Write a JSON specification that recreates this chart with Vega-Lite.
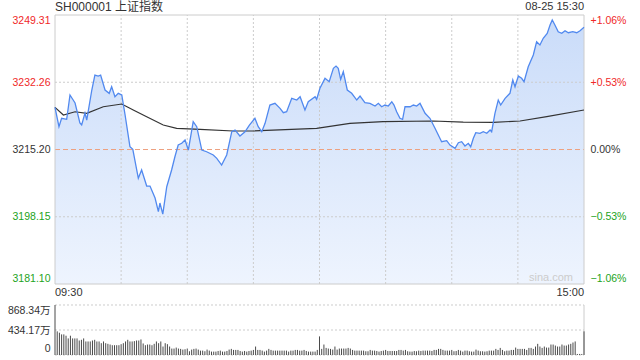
{
"$schema": "https://vega.github.io/schema/vega-lite/v6.json",
"width": 529, "height": 340,
"autosize": "none",
"padding": {"left": 55, "top": 15, "right": 56, "bottom": 5},
"background": "white",
"config": {"view": {"stroke": null}, "font": "Liberation Sans, Noto Sans CJK SC"},
"datasets": {
"price": [{"t":0,"p":3225.90},{"t":1.8,"p":3220.98},{"t":3.0,"p":3223.11},{"t":5.3,"p":3222.86},{"t":6.8,"p":3229.02},{"t":9.1,"p":3226.99},{"t":11.3,"p":3221.92},{"t":12.1,"p":3221.41},{"t":13.6,"p":3224.46},{"t":14.4,"p":3222.68},{"t":16.7,"p":3230.29},{"t":18.1,"p":3234.09},{"t":19.6,"p":3233.84},{"t":20.7,"p":3234.09},{"t":22.7,"p":3230.29},{"t":24.6,"p":3229.45},{"t":25.7,"p":3231.12},{"t":27.2,"p":3228.59},{"t":28.7,"p":3229.45},{"t":30.3,"p":3229.02},{"t":31.8,"p":3223.95},{"t":34.0,"p":3215.91},{"t":35.3,"p":3215.25},{"t":37.8,"p":3207.90},{"t":39.3,"p":3210.00},{"t":41.6,"p":3205.94},{"t":43.1,"p":3205.94},{"t":45.4,"p":3202.90},{"t":46.9,"p":3199.43},{"t":47.6,"p":3201.63},{"t":48.9,"p":3198.84},{"t":50.7,"p":3205.77},{"t":52.9,"p":3210.00},{"t":54.4,"p":3213.37},{"t":55.9,"p":3216.34},{"t":57.5,"p":3216.77},{"t":59.0,"p":3217.61},{"t":60.5,"p":3215.07},{"t":62.7,"p":3222.25},{"t":64.3,"p":3220.98},{"t":66.6,"p":3215.07},{"t":68.8,"p":3214.64},{"t":71.8,"p":3213.81},{"t":73.4,"p":3212.97},{"t":75.6,"p":3211.27},{"t":77.9,"p":3213.81},{"t":80.2,"p":3219.71},{"t":81.7,"p":3220.14},{"t":83.9,"p":3218.62},{"t":86.2,"p":3219.71},{"t":88.2,"p":3221.41},{"t":90.7,"p":3223.11},{"t":92.2,"p":3220.98},{"t":93.8,"p":3219.71},{"t":95.3,"p":3221.84},{"t":97.5,"p":3226.48},{"t":99.8,"p":3226.91},{"t":102.1,"p":3225.65},{"t":103.6,"p":3224.53},{"t":105.1,"p":3224.78},{"t":107.4,"p":3228.18},{"t":109.7,"p":3227.75},{"t":111.2,"p":3228.59},{"t":113.4,"p":3225.22},{"t":114.9,"p":3227.32},{"t":118.0,"p":3228.59},{"t":118.7,"p":3227.93},{"t":120.2,"p":3230.72},{"t":122.5,"p":3233.25},{"t":124.4,"p":3232.39},{"t":126.3,"p":3235.79},{"t":127.5,"p":3236.37},{"t":128.5,"p":3235.79},{"t":129.6,"p":3233.00},{"t":130.8,"p":3234.93},{"t":132.6,"p":3230.29},{"t":134.6,"p":3229.45},{"t":136.9,"p":3227.75},{"t":138.4,"p":3228.77},{"t":140.6,"p":3227.07},{"t":142.9,"p":3226.91},{"t":145.2,"p":3226.23},{"t":146.7,"p":3226.91},{"t":148.2,"p":3226.05},{"t":149.7,"p":3226.48},{"t":151.2,"p":3226.23},{"t":152.8,"p":3227.32},{"t":153.8,"p":3226.48},{"t":155.0,"p":3224.78},{"t":156.5,"p":3223.11},{"t":157.7,"p":3222.86},{"t":158.8,"p":3226.05},{"t":161.1,"p":3226.05},{"t":162.6,"p":3226.48},{"t":164.1,"p":3226.23},{"t":165.6,"p":3226.91},{"t":167.9,"p":3224.38},{"t":170.1,"p":3223.11},{"t":172.4,"p":3220.58},{"t":175.4,"p":3217.18},{"t":177.7,"p":3217.43},{"t":179.2,"p":3216.34},{"t":181.5,"p":3215.50},{"t":183.0,"p":3216.92},{"t":184.5,"p":3217.18},{"t":186.0,"p":3216.09},{"t":187.5,"p":3216.77},{"t":188.6,"p":3215.91},{"t":189.8,"p":3218.04},{"t":190.9,"p":3219.46},{"t":192.8,"p":3219.31},{"t":194.3,"p":3219.71},{"t":195.9,"p":3219.31},{"t":197.4,"p":3220.14},{"t":198.1,"p":3219.71},{"t":199.6,"p":3224.38},{"t":201.1,"p":3227.75},{"t":202.2,"p":3226.48},{"t":204.2,"p":3228.18},{"t":206.4,"p":3229.45},{"t":207.7,"p":3232.82},{"t":208.7,"p":3231.12},{"t":210.2,"p":3233.84},{"t":211.7,"p":3233.25},{"t":212.8,"p":3232.39},{"t":214.7,"p":3236.20},{"t":217.0,"p":3239.16},{"t":218.5,"p":3242.53},{"t":220.0,"p":3241.70},{"t":221.5,"p":3243.40},{"t":223.3,"p":3244.66},{"t":224.6,"p":3246.77},{"t":225.6,"p":3248.04},{"t":226.8,"p":3246.77},{"t":228.3,"p":3245.07},{"t":229.9,"p":3244.66},{"t":231.4,"p":3245.32},{"t":232.9,"p":3244.82},{"t":234.9,"p":3245.07},{"t":236.7,"p":3244.82},{"t":238.2,"p":3245.32},{"t":240,"p":3246.19}],
"avg": [{"t":0,"a":3225.90},{"t":3.8,"a":3223.95},{"t":9.1,"a":3224.78},{"t":14.4,"a":3224.38},{"t":21.9,"a":3226.05},{"t":30.3,"a":3226.74},{"t":35.5,"a":3225.22},{"t":41.6,"a":3223.52},{"t":49.1,"a":3221.41},{"t":55.2,"a":3220.58},{"t":65.8,"a":3220.32},{"t":80.9,"a":3219.89},{"t":88.5,"a":3219.89},{"t":118.7,"a":3220.58},{"t":133.8,"a":3221.84},{"t":148.8,"a":3222.25},{"t":171.5,"a":3222.43},{"t":185.2,"a":3222.17},{"t":198.8,"a":3222.10},{"t":211.0,"a":3222.43},{"t":223.1,"a":3223.52},{"t":240,"a":3225.22}],
"vol": [{"t":0,"v":868},{"t":1,"v":411},{"t":2,"v":387},{"t":3,"v":358},{"t":4,"v":358},{"t":5,"v":335},{"t":6,"v":288},{"t":7,"v":335},{"t":8,"v":288},{"t":9,"v":288},{"t":10,"v":288},{"t":11,"v":252},{"t":12,"v":264},{"t":13,"v":288},{"t":14,"v":235},{"t":15,"v":235},{"t":16,"v":235},{"t":17,"v":252},{"t":18,"v":264},{"t":19,"v":235},{"t":20,"v":235},{"t":21,"v":205},{"t":22,"v":235},{"t":23,"v":205},{"t":24,"v":194},{"t":25,"v":182},{"t":26,"v":170},{"t":27,"v":170},{"t":28,"v":170},{"t":29,"v":170},{"t":30,"v":188},{"t":31,"v":205},{"t":32,"v":235},{"t":33,"v":264},{"t":34,"v":235},{"t":35,"v":235},{"t":36,"v":241},{"t":37,"v":252},{"t":38,"v":252},{"t":39,"v":270},{"t":40,"v":200},{"t":41,"v":170},{"t":42,"v":182},{"t":43,"v":182},{"t":44,"v":170},{"t":45,"v":194},{"t":46,"v":235},{"t":47,"v":205},{"t":48,"v":235},{"t":49,"v":147},{"t":50,"v":205},{"t":51,"v":188},{"t":52,"v":147},{"t":53,"v":112},{"t":54,"v":112},{"t":55,"v":129},{"t":56,"v":112},{"t":57,"v":106},{"t":58,"v":94},{"t":59,"v":100},{"t":60,"v":112},{"t":61,"v":65},{"t":62,"v":94},{"t":63,"v":106},{"t":64,"v":112},{"t":65,"v":94},{"t":66,"v":76},{"t":67,"v":76},{"t":68,"v":65},{"t":69,"v":94},{"t":70,"v":76},{"t":71,"v":59},{"t":72,"v":59},{"t":73,"v":59},{"t":74,"v":70},{"t":75,"v":76},{"t":76,"v":59},{"t":77,"v":59},{"t":78,"v":70},{"t":79,"v":94},{"t":80,"v":106},{"t":81,"v":88},{"t":82,"v":88},{"t":83,"v":88},{"t":84,"v":70},{"t":85,"v":59},{"t":86,"v":70},{"t":87,"v":59},{"t":88,"v":70},{"t":89,"v":76},{"t":90,"v":88},{"t":91,"v":147},{"t":92,"v":88},{"t":93,"v":88},{"t":94,"v":76},{"t":95,"v":59},{"t":96,"v":76},{"t":97,"v":106},{"t":98,"v":88},{"t":99,"v":76},{"t":100,"v":76},{"t":101,"v":76},{"t":102,"v":76},{"t":103,"v":76},{"t":104,"v":76},{"t":105,"v":76},{"t":106,"v":59},{"t":107,"v":76},{"t":108,"v":76},{"t":109,"v":88},{"t":110,"v":88},{"t":111,"v":76},{"t":112,"v":76},{"t":113,"v":88},{"t":114,"v":70},{"t":115,"v":59},{"t":116,"v":59},{"t":117,"v":59},{"t":118,"v":59},{"t":119,"v":88},{"t":120,"v":323},{"t":121,"v":106},{"t":122,"v":182},{"t":123,"v":123},{"t":124,"v":112},{"t":125,"v":106},{"t":126,"v":94},{"t":127,"v":147},{"t":128,"v":94},{"t":129,"v":112},{"t":130,"v":112},{"t":131,"v":112},{"t":132,"v":112},{"t":133,"v":123},{"t":134,"v":112},{"t":135,"v":88},{"t":136,"v":76},{"t":137,"v":76},{"t":138,"v":76},{"t":139,"v":76},{"t":140,"v":76},{"t":141,"v":65},{"t":142,"v":65},{"t":143,"v":88},{"t":144,"v":76},{"t":145,"v":76},{"t":146,"v":70},{"t":147,"v":59},{"t":148,"v":70},{"t":149,"v":76},{"t":150,"v":88},{"t":151,"v":70},{"t":152,"v":70},{"t":153,"v":70},{"t":154,"v":70},{"t":155,"v":70},{"t":156,"v":88},{"t":157,"v":88},{"t":158,"v":76},{"t":159,"v":88},{"t":160,"v":65},{"t":161,"v":59},{"t":162,"v":59},{"t":163,"v":70},{"t":164,"v":65},{"t":165,"v":76},{"t":166,"v":70},{"t":167,"v":76},{"t":168,"v":76},{"t":169,"v":76},{"t":170,"v":76},{"t":171,"v":70},{"t":172,"v":88},{"t":173,"v":88},{"t":174,"v":106},{"t":175,"v":106},{"t":176,"v":88},{"t":177,"v":76},{"t":178,"v":76},{"t":179,"v":76},{"t":180,"v":88},{"t":181,"v":65},{"t":182,"v":70},{"t":183,"v":88},{"t":184,"v":76},{"t":185,"v":59},{"t":186,"v":76},{"t":187,"v":76},{"t":188,"v":65},{"t":189,"v":59},{"t":190,"v":59},{"t":191,"v":94},{"t":192,"v":76},{"t":193,"v":65},{"t":194,"v":65},{"t":195,"v":59},{"t":196,"v":65},{"t":197,"v":76},{"t":198,"v":76},{"t":199,"v":76},{"t":200,"v":106},{"t":201,"v":88},{"t":202,"v":123},{"t":203,"v":88},{"t":204,"v":65},{"t":205,"v":76},{"t":206,"v":76},{"t":207,"v":88},{"t":208,"v":88},{"t":209,"v":129},{"t":210,"v":106},{"t":211,"v":106},{"t":212,"v":106},{"t":213,"v":106},{"t":214,"v":88},{"t":215,"v":123},{"t":216,"v":123},{"t":217,"v":106},{"t":218,"v":147},{"t":219,"v":194},{"t":220,"v":147},{"t":221,"v":123},{"t":222,"v":147},{"t":223,"v":129},{"t":224,"v":129},{"t":225,"v":182},{"t":226,"v":182},{"t":227,"v":164},{"t":228,"v":147},{"t":229,"v":147},{"t":230,"v":182},{"t":231,"v":164},{"t":232,"v":164},{"t":233,"v":182},{"t":234,"v":194},{"t":235,"v":217},{"t":236,"v":235},{"t":237,"v":18},{"t":238,"v":18},{"t":239,"v":18},{"t":240,"v":411}],
"vgrid": [{"t":30},{"t":60},{"t":90},{"t":120},{"t":150},{"t":180},{"t":210}],
"vborder": [{"t":0},{"t":240}],
"hgrid": [{"p":3198.15},{"p":3232.26}],
"hborder": [{"p":3181.10},{"p":3249.31}],
"volgrid": [{"v":0},{"v":434.17},{"v":868.34}]
},
"resolve": {"scale": {"y": "independent"}, "axis": {"y": "independent"}},
"layer": [
{"data": {"name": "price"},
 "mark": {"type": "area", "color": {"gradient": "linear", "x1": 0, "y1": 0, "x2": 0, "y2": 1, "stops": [{"offset": 0, "color": "#cadcf9"}, {"offset": 1, "color": "#eef4fe"}]}},
 "encoding": {
  "x": {"field": "t", "type": "quantitative", "scale": {"domain": [0, 240], "nice": false, "zero": false}, "axis": null},
  "y": {"field": "p", "type": "quantitative", "scale": {"domain": [3163.097, 3249.31], "nice": false, "zero": false},
   "axis": {"orient": "left", "values": [3181.10, 3198.15, 3215.20, 3232.26, 3249.31], "format": ".2f", "ticks": false, "domain": false, "grid": false, "title": null, "labelPadding": 5, "labelFontSize": 10.5, "labelFont": "Liberation Sans",
    "labelColor": {"condition": [{"test": "datum.value > 3215.3", "value": "#f02828"}, {"test": "datum.value < 3215.1", "value": "#22a322"}], "value": "#333333"},
    "labelOffset": {"condition": [{"test": "datum.value > 3249", "value": 5}, {"test": "datum.value < 3182", "value": -6}], "value": 0}}},
  "y2": {"datum": 3181.10}}},
{"data": {"name": "vgrid"},
 "mark": {"type": "rule", "stroke": "#cccccc", "strokeDash": [2, 2], "strokeWidth": 1},
 "encoding": {"x": {"field": "t", "type": "quantitative", "axis": null},
  "y": {"datum": 3181.10, "type": "quantitative", "scale": {"domain": [3163.097, 3249.31], "nice": false, "zero": false}, "axis": null},
  "y2": {"datum": 3249.31}}},
{"data": {"name": "hgrid"},
 "mark": {"type": "rule", "stroke": "#cccccc", "strokeDash": [2, 2], "strokeWidth": 1},
 "encoding": {"x": {"datum": 0, "type": "quantitative", "axis": null}, "x2": {"datum": 240},
  "y": {"field": "p", "type": "quantitative", "scale": {"domain": [3163.097, 3249.31], "nice": false, "zero": false}, "axis": null}}},
{"data": {"values": [{"p": 3215.20}]},
 "mark": {"type": "rule", "stroke": "#eda07f", "strokeDash": [5, 3], "strokeWidth": 1},
 "encoding": {"x": {"datum": 0, "type": "quantitative", "axis": null}, "x2": {"datum": 240},
  "y": {"field": "p", "type": "quantitative", "scale": {"domain": [3163.097, 3249.31], "nice": false, "zero": false}, "axis": null}}},
{"data": {"name": "hborder"},
 "mark": {"type": "rule", "stroke": "#cccccc", "strokeWidth": 1},
 "encoding": {"x": {"datum": 0, "type": "quantitative", "axis": null}, "x2": {"datum": 240},
  "y": {"field": "p", "type": "quantitative", "scale": {"domain": [3163.097, 3249.31], "nice": false, "zero": false}, "axis": null}}},
{"data": {"name": "vborder"},
 "mark": {"type": "rule", "stroke": "#cccccc", "strokeWidth": 1},
 "encoding": {"x": {"field": "t", "type": "quantitative", "axis": null},
  "y": {"datum": 3181.10, "type": "quantitative", "scale": {"domain": [3163.097, 3249.31], "nice": false, "zero": false}, "axis": null},
  "y2": {"datum": 3249.31}}},
{"data": {"name": "avg"},
 "mark": {"type": "line", "stroke": "#333333", "strokeWidth": 1.2},
 "encoding": {"x": {"field": "t", "type": "quantitative", "axis": null},
  "y": {"field": "a", "type": "quantitative", "scale": {"domain": [3163.097, 3249.31], "nice": false, "zero": false}, "axis": null}}},
{"data": {"name": "price"},
 "mark": {"type": "line", "stroke": "#5189ef", "strokeWidth": 1.3},
 "encoding": {"x": {"field": "t", "type": "quantitative", "axis": null},
  "y": {"field": "p", "type": "quantitative", "scale": {"domain": [3163.097, 3249.31], "nice": false, "zero": false},
   "axis": {"orient": "right", "values": [3181.10, 3198.15, 3215.20, 3232.26, 3249.31], "ticks": false, "domain": false, "grid": false, "title": null, "labelPadding": 6, "labelFontSize": 10.5, "labelFont": "Liberation Sans",
    "labelExpr": "abs(datum.value - 3215.2) < 0.01 ? '0.00%' : (datum.value > 3215.2 ? '+' : '') + format((datum.value / 3215.2 - 1) * 100, '.2f') + '%'",
    "labelColor": {"condition": [{"test": "datum.value > 3215.3", "value": "#f02828"}, {"test": "datum.value < 3215.1", "value": "#22a322"}], "value": "#333333"},
    "labelOffset": {"condition": [{"test": "datum.value > 3249", "value": 5}, {"test": "datum.value < 3182", "value": -6}], "value": 0}}}}},
{"data": {"name": "volgrid"},
 "mark": {"type": "rule", "stroke": "#cccccc", "strokeDash": [2, 2], "strokeWidth": 1},
 "encoding": {"x": {"datum": 0, "type": "quantitative", "axis": null}, "x2": {"datum": 240},
  "y": {"field": "v", "type": "quantitative", "scale": {"domain": [0, 5904.71], "nice": false, "zero": false}, "axis": null}}},
{"data": {"values": [{"t": 240}]},
 "mark": {"type": "rule", "stroke": "#cccccc", "strokeWidth": 1},
 "encoding": {"x": {"field": "t", "type": "quantitative", "axis": null},
  "y": {"datum": 0, "type": "quantitative", "scale": {"domain": [0, 5904.71], "nice": false, "zero": false}, "axis": null},
  "y2": {"datum": 868.34}}},
{"data": {"name": "vol"},
 "mark": {"type": "rule", "stroke": "#4a4a4a", "strokeWidth": 1},
 "encoding": {"x": {"field": "t", "type": "quantitative", "axis": null},
  "y": {"field": "v", "type": "quantitative", "scale": {"domain": [0, 5904.71], "nice": false, "zero": false},
   "axis": {"orient": "left", "values": [0, 434.17, 868.34], "ticks": false, "domain": false, "grid": false, "title": null, "labelPadding": 5, "labelFontSize": 10.5, "labelColor": "#333333",
    "labelExpr": "datum.value == 0 ? '0' : format(datum.value, '.2f') + '万'",
    "labelOffset": {"condition": [{"test": "datum.value > 868", "value": 6}, {"test": "datum.value < 1", "value": -7}], "value": 0}}},
  "y2": {"datum": 0}}},
{"data": {"values": [{}]},
 "mark": {"type": "text", "text": "SH000001 上证指数", "align": "left", "baseline": "middle", "dy": -8, "fontSize": 12, "color": "#333333"},
 "encoding": {"x": {"datum": 0, "type": "quantitative", "axis": null},
  "y": {"datum": 3249.31, "type": "quantitative", "scale": {"domain": [3163.097, 3249.31], "nice": false, "zero": false}, "axis": null}}},
{"data": {"values": [{}]},
 "mark": {"type": "text", "text": "08-25 15:30", "align": "right", "baseline": "middle", "dy": -8, "fontSize": 11, "color": "#333333"},
 "encoding": {"x": {"datum": 240, "type": "quantitative", "axis": null},
  "y": {"datum": 3249.31, "type": "quantitative", "scale": {"domain": [3163.097, 3249.31], "nice": false, "zero": false}, "axis": null}}},
{"data": {"values": [{}]},
 "mark": {"type": "text", "text": "09:30", "align": "left", "baseline": "middle", "dy": 9, "fontSize": 11, "color": "#333333"},
 "encoding": {"x": {"datum": 0, "type": "quantitative", "axis": null},
  "y": {"datum": 3181.10, "type": "quantitative", "scale": {"domain": [3163.097, 3249.31], "nice": false, "zero": false}, "axis": null}}},
{"data": {"values": [{}]},
 "mark": {"type": "text", "text": "15:00", "align": "right", "baseline": "middle", "dy": 9, "fontSize": 11, "color": "#333333"},
 "encoding": {"x": {"datum": 240, "type": "quantitative", "axis": null},
  "y": {"datum": 3181.10, "type": "quantitative", "scale": {"domain": [3163.097, 3249.31], "nice": false, "zero": false}, "axis": null}}},
{"data": {"values": [{}]},
 "mark": {"type": "text", "text": "sina.com", "align": "right", "baseline": "middle", "dx": -11, "dy": -6, "fontSize": 11, "color": "#cccccc"},
 "encoding": {"x": {"datum": 240, "type": "quantitative", "axis": null},
  "y": {"datum": 3181.10, "type": "quantitative", "scale": {"domain": [3163.097, 3249.31], "nice": false, "zero": false}, "axis": null}}}
]
}
